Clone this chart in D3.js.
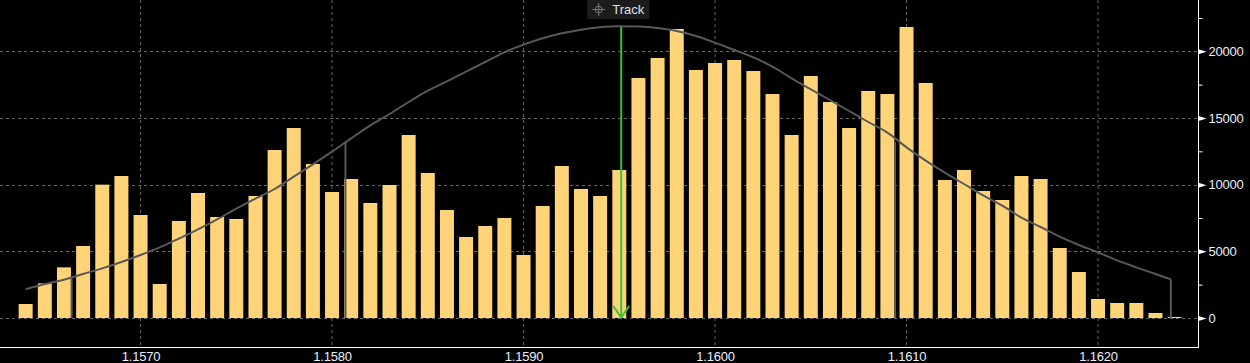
<!DOCTYPE html>
<html>
<head>
<meta charset="utf-8">
<script src="https://cdn.jsdelivr.net/npm/d3@7"></script>
<style>
  html, body { margin: 0; padding: 0; background: #000; }
  #chart { width: 1250px; height: 363px; }
</style>
</head>
<body>
<div id="chart"></div>
<script>
// price bins (bar centres)
const prices = [
  1.1564, 1.1565, 1.1566, 1.1567, 1.1568, 1.1569, 1.1570, 1.1571, 1.1572, 1.1573,
  1.1574, 1.1575, 1.1576, 1.1577, 1.1578, 1.1579, 1.1580, 1.1581, 1.1582, 1.1583,
  1.1584, 1.1585, 1.1586, 1.1587, 1.1588, 1.1589, 1.1590, 1.1591, 1.1592, 1.1593,
  1.1594, 1.1595, 1.1596, 1.1597, 1.1598, 1.1599, 1.1600, 1.1601, 1.1602, 1.1603,
  1.1604, 1.1605, 1.1606, 1.1607, 1.1608, 1.1609, 1.1610, 1.1611, 1.1612, 1.1613,
  1.1614, 1.1615, 1.1616, 1.1617, 1.1618, 1.1619, 1.1620, 1.1621, 1.1622, 1.1623,
  1.1624
];
// volume per bin
const volumes = [
  1050, 2600, 3800, 5400, 10000, 10650, 7725, 2550, 7275, 9375,
  7575, 7425, 9150, 12600, 14250, 11550, 9450, 10425, 8625, 9975,
  13725, 10875, 8100, 6075, 6900, 7500, 4725, 8400, 11400, 9675,
  9150, 11100, 18000, 19500, 21675, 18600, 19125, 19350, 18525, 16800,
  13725, 18150, 16200, 14250, 17025, 16800, 21825, 17625, 10350, 11100,
  9525, 8850, 10650, 10425, 5250, 3450, 1425, 1125, 1125, 375,
  80
];
// distribution curve read at each bin (last point ends at +2 sigma)
const curvePrices = prices.slice(0, 60).concat([1.16238]);
const curveValues = [
  2150, 2550, 2875, 3300, 3725, 4200, 4725, 5300, 5950, 6650,
  7400, 8200, 8950, 9675, 10600, 11525, 12475, 13475, 14450, 15300,
  16200, 17050, 17750, 18475, 19200, 19925, 20500, 20975, 21350, 21625,
  21800, 21875, 21860, 21750, 21525, 21150, 20650, 20100, 19550, 18850,
  17975, 17150, 16350, 15525, 14700, 13900, 12800, 11800, 10900, 10050,
  9200, 8425, 7525, 6825, 6100, 5475, 4925, 4325, 3800, 3300,
  2900
];
// sigma markers
const sigmaPrices = [1.15664, 1.15807, 1.16094, 1.16238];
const sigmaValues = [3100, 13200, 13200, 2900];
const meanPrice = 1.15951;
const meanValue = 21850;

const xTicks = [1.1570, 1.1580, 1.1590, 1.1600, 1.1610, 1.1620];
const yTicks = [0, 5000, 10000, 15000, 20000];
const yMinor = [2500, 7500, 12500, 17500, 22500];

const W = 1250, H = 363;
const plotRight = 1198, plotBottom = 347;
const font = '"Liberation Sans", Arial, sans-serif';

const svg = d3.select('#chart').append('svg')
  .attr('width', W).attr('height', H)
  .style('display', 'block')
  .style('background', '#000');

const x = d3.scaleLinear().domain([1.156266, 1.162522]).range([0, plotRight]);
const y = d3.scaleLinear().domain([-2175, 23850]).range([plotBottom, 0]);

// grid
svg.append('g').selectAll('line').data(xTicks).enter().append('line')
  .attr('x1', d => x(d)).attr('x2', d => x(d))
  .attr('y1', 0).attr('y2', plotBottom)
  .attr('stroke', '#666').attr('stroke-dasharray', '3,3');
svg.append('g').selectAll('line').data(yTicks).enter().append('line')
  .attr('x1', 0).attr('x2', plotRight)
  .attr('y1', d => Math.round(y(d)) + 0.5).attr('y2', d => Math.round(y(d)) + 0.5)
  .attr('stroke', '#666').attr('stroke-dasharray', '3,3');

// bars
const binW = x(1.1571) - x(1.1570);
const barW = binW * 0.73;
svg.append('g').selectAll('rect').data(prices).enter().append('rect')
  .attr('x', d => x(d) - barW / 2)
  .attr('width', barW)
  .attr('y', (d, i) => y(volumes[i]))
  .attr('height', (d, i) => y(0) - y(volumes[i]))
  .attr('fill', '#ffd479');

// sigma lines
svg.append('g').selectAll('line').data(sigmaPrices).enter().append('line')
  .attr('x1', d => x(d)).attr('x2', d => x(d))
  .attr('y1', y(0)).attr('y2', (d, i) => y(sigmaValues[i]))
  .attr('stroke', '#585858').attr('stroke-width', 2);

// distribution curve
const line = d3.line()
  .x((d, i) => x(curvePrices[i]))
  .y(d => y(d))
  .curve(d3.curveMonotoneX);
svg.append('path')
  .datum(curveValues)
  .attr('d', line)
  .attr('fill', 'none')
  .attr('stroke', '#585858')
  .attr('stroke-width', 2);

// mean arrow
const mx = x(meanPrice);
svg.append('line')
  .attr('x1', mx).attr('x2', mx)
  .attr('y1', y(meanValue)).attr('y2', y(0))
  .attr('stroke', '#3cbf3c').attr('stroke-width', 2);
svg.append('path')
  .attr('d', `M${mx - 8},${y(0) - 12}L${mx},${y(0) - 0.5}L${mx + 8},${y(0) - 12}`)
  .attr('fill', 'none').attr('stroke', '#3cbf3c').attr('stroke-width', 2);

// track label
const tg = svg.append('g').attr('transform', `translate(${mx - 34},0)`);
tg.append('rect').attr('x', 0).attr('y', 0).attr('width', 62).attr('height', 19)
  .attr('fill', '#1c1c1c');
tg.append('circle').attr('cx', 11.5).attr('cy', 9.5).attr('r', 3.5)
  .attr('fill', 'none').attr('stroke', '#777');
tg.append('path').attr('d', 'M5,9.5H18M11.5,3V16')
  .attr('stroke', '#777').attr('stroke-width', 1);
tg.append('text').attr('x', 25).attr('y', 14)
  .text('Track')
  .attr('fill', '#e0e0e0')
  .style('font-family', font).style('font-size', '13px');

// bottom axis
const xAxis = svg.append('g')
  .attr('transform', `translate(0,${plotBottom})`)
  .call(d3.axisBottom(x).tickValues(xTicks).tickSize(0).tickPadding(5).tickFormat(d3.format('.4f')));
xAxis.select('.domain').remove();
xAxis.selectAll('text').attr('fill', '#e8f0ff')
  .style('font-family', font).style('font-size', '13px').style('letter-spacing', '-0.2px');
svg.append('line').attr('x1', 0).attr('x2', plotRight + 0.5)
  .attr('y1', plotBottom + 0.5).attr('y2', plotBottom + 0.5)
  .attr('stroke', '#fff');

// right axis
const yAxis = svg.append('g')
  .attr('transform', `translate(${plotRight + 0.5},0)`)
  .call(d3.axisRight(y).tickValues(yTicks).tickSize(0).tickPadding(10).tickFormat(d3.format('d')));
yAxis.select('.domain').remove();
yAxis.selectAll('text').attr('fill', '#e8f0ff')
  .style('font-family', font).style('font-size', '13px').style('letter-spacing', '-0.2px');
yAxis.selectAll('.tick').append('path')
  .attr('d', 'M0,-2.5L8,0L0,2.5Z')
  .attr('fill', '#fff');
const yMinorAxis = svg.append('g')
  .attr('transform', `translate(${plotRight + 0.5},0)`)
  .call(d3.axisRight(y).tickValues(yMinor).tickSize(4).tickFormat(''));
yMinorAxis.select('.domain').remove();
yMinorAxis.selectAll('line').attr('stroke', '#fff');
svg.append('line').attr('x1', plotRight + 0.5).attr('x2', plotRight + 0.5)
  .attr('y1', 0).attr('y2', plotBottom + 1)
  .attr('stroke', '#fff');
</script>
</body>
</html>
